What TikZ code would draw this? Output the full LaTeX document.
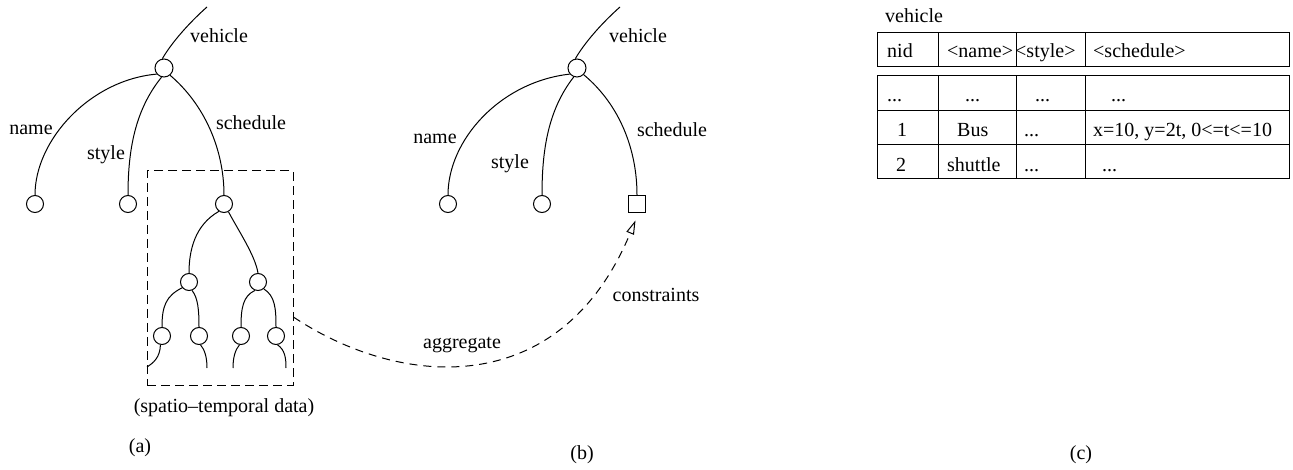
\documentclass[tikz,border=0pt]{standalone}
\usepackage{fontspec}
\setmainfont{Liberation Serif}
\usetikzlibrary{arrows.meta}
\tikzset{
  txt/.style={font=\fontsize{20}{24}\selectfont, inner sep=0pt},
  tcell/.style={txt, anchor=base west},
  circ/.style={circle, draw, minimum size=17pt, inner sep=0pt},
  rootc/.style={circle, draw, minimum size=18pt, inner sep=0pt},
  sqnode/.style={rectangle, draw, minimum size=17pt, inner sep=0pt},
  edge/.style={line width=1pt},
  dashbox/.style={draw, line width=1pt, dash pattern=on 9pt off 5pt},
  dasharrow/.style={line width=1pt, dash pattern=on 8pt off 6pt, -{Triangle[open,length=14pt,width=8pt,line width=1pt]}},
  tline/.style={line width=1pt}
}
\begin{document}
\begin{tikzpicture}[x=1pt,y=-1pt]
\useasboundingbox (0,0) rectangle (1293,470);

% ---------- (a) ----------
\coordinate (ta) at (207,7);
\node[rootc, edge] (ra) at (164,68) {};
\node[circ, edge] (la1) at (35,204) {};
\node[circ, edge] (la2) at (128,204) {};
\node[circ, edge] (la3) at (224,204) {};
\node[circ, edge] (s1) at (189,282) {};
\node[circ, edge] (s2) at (258,282) {};
\node[circ, edge] (t1) at (162,336) {};
\node[circ, edge] (t2) at (199,336) {};
\node[circ, edge] (t3) at (241,336) {};
\node[circ, edge] (t4) at (276,336) {};
\coordinate (e1) at (147,367);
\coordinate (e2) at (207,368);
\coordinate (e3) at (233,368);
\coordinate (e4) at (286,368);

\draw[edge] (ta) .. controls (190,22) and (172,42) .. (ra.100);
\draw[edge] (ra.-140) .. controls (90,80) and (35,140) .. (la1.north);
\draw[edge] (ra.-105) .. controls (135,110) and (128,150) .. (la2.north);
\draw[edge] (ra.-50) .. controls (205,105) and (224,150) .. (la3.north);

\draw[edge] (la3.-125) .. controls (195,225) and (189,250) .. (s1.north);
\draw[edge] (la3.-60) .. controls (238,230) and (255,255) .. (s2.north);
\draw[edge] (s1.-140) .. controls (166,296) and (162,306) .. (t1.north);
\draw[edge] (s1.-70) .. controls (198,298) and (199,310) .. (t2.north);
\draw[edge] (s2.-110) .. controls (243,296) and (241,308) .. (t3.north);
\draw[edge] (s2.-50) .. controls (275,296) and (276,308) .. (t4.north);
\draw[edge] (t1.-100) .. controls (160,358) and (153,363) .. (e1);
\draw[edge] (t2.-80) .. controls (205,350) and (207,358) .. (e2);
\draw[edge] (t3.-100) .. controls (235,350) and (233,358) .. (e3);
\draw[edge] (t4.-80) .. controls (285,350) and (286,358) .. (e4);

\node[dashbox, minimum width=146pt, minimum height=214pt, inner sep=0pt] (box) at (220,278) {};

\node[txt] (lveha) at (219,36) {vehicle};
\node[txt] (lnamea) at (31,130) {name};
\node[txt] (lstylea) at (106,155) {style};
\node[txt] (lscha) at (251,123) {schedule};
\node[txt] (lspt) at (224,408) {(spatio{\textendash}temporal data)};
\node[txt] (capa) at (140,448) {(a)};

% ---------- (b) ----------
\coordinate (tb) at (620,7);
\node[rootc, edge] (rb) at (577,68) {};
\node[circ, edge] (lb1) at (448,204) {};
\node[circ, edge] (lb2) at (542,204) {};
\node[sqnode, edge] (sq) at (637,204) {};

\draw[edge] (tb) .. controls (603,22) and (585,42) .. (rb.100);
\draw[edge] (rb.-140) .. controls (500,82) and (448,140) .. (lb1.north);
\draw[edge] (rb.-110) .. controls (548,110) and (542,150) .. (lb2.north);
\draw[edge] (rb.-45) .. controls (620,105) and (637,150) .. (sq.north);

\node[txt] (lvehb) at (638,36) {vehicle};
\node[txt] (lnameb) at (435,139) {name};
\node[txt] (lstyleb) at (510,164) {style};
\node[txt] (lschb) at (672,130) {schedule};
\node[txt] (capb) at (582,455) {(b)};

% aggregate arrow
\draw[dasharrow, shorten >=8pt] (box.-28) .. controls (400,388) and (560,402) .. (sq.-80);
\node[txt] (lagg) at (462,345) {aggregate};
\node[txt] (lcons) at (656,295) {constraints};

% ---------- (c) ----------
\node[tcell] (tveh) at (885,23) {vehicle};
\node[draw, tline, minimum width=412pt, minimum height=34pt, inner sep=0pt] (hdr) at (1083,50) {};
\draw[tline] (938,33) -- (938,67) (1016,33) -- (1016,67) (1085,33) -- (1085,67);
\node[draw, tline, minimum width=412pt, minimum height=103pt, inner sep=0pt] (body) at (1083,127.5) {};
\draw[tline] (877,111) -- (1289,111) (877,145) -- (1289,145);
\draw[tline] (938,76) -- (938,179) (1016,76) -- (1016,179) (1085,76) -- (1085,179);

\node[tcell] (h1) at (887,58) {nid};
\node[tcell] (h2) at (947,58) {<name>};
\node[tcell] (h3) at (1015,58) {<style>};
\node[tcell] (h4) at (1093,58) {<schedule>};

\node[tcell] (r11) at (887,102) {...};
\node[tcell] (r12) at (965,102) {...};
\node[tcell] (r13) at (1035,102) {...};
\node[tcell] (r14) at (1111,102) {...};

\node[tcell] (r21) at (897,137) {1};
\node[tcell] (r22) at (957,137) {Bus};
\node[tcell] (r23) at (1024,137) {...};
\node[tcell] (r24) at (1093,137) {x=10, y=2t, 0<=t<=10};

\node[tcell] (r31) at (896,172) {2};
\node[tcell] (r32) at (947,172) {shuttle};
\node[tcell] (r33) at (1024,172) {...};
\node[tcell] (r34) at (1102,172) {...};

\node[txt] (capc) at (1081,455) {(c)};
\end{tikzpicture}
\end{document}
